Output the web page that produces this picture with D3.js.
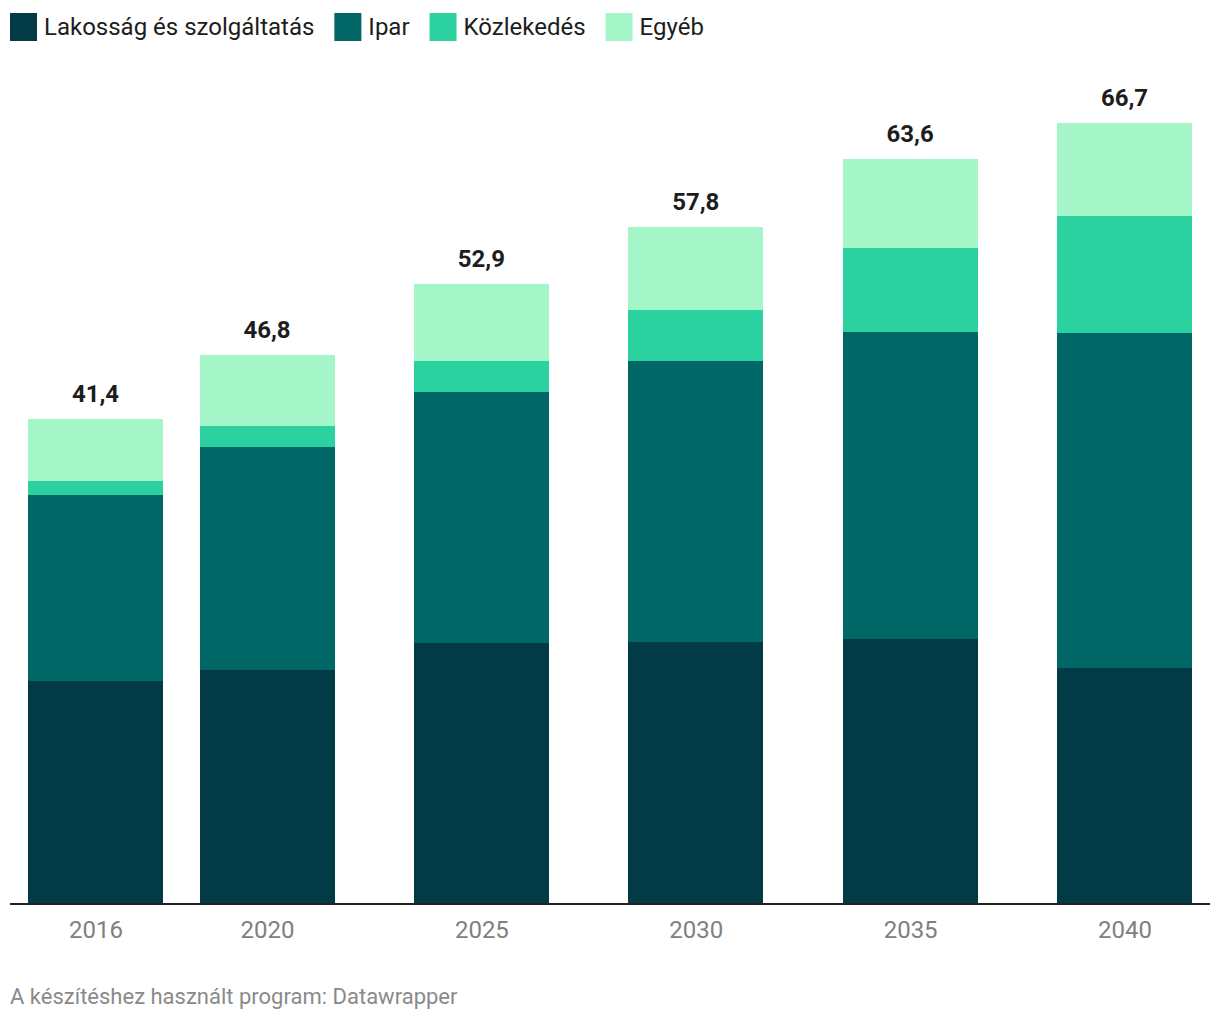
<!DOCTYPE html>
<html>
<head>
<meta charset="utf-8">
<script src="https://cdn.jsdelivr.net/npm/d3@7"></script>
<style>
  body { margin: 0; background: #fff; }
  svg { display: block; font-family: Roboto, "Noto Sans", sans-serif; }
</style>
</head>
<body>
<svg id="chart" width="1220" height="1020"></svg>
<script>
const years = [2016, 2020, 2025, 2030, 2035, 2040];
const seriesNames = ["Lakosság és szolgáltatás", "Ipar", "Közlekedés", "Egyéb"];
const lakossag = [19.0, 19.9, 22.2, 22.3, 22.6, 20.1];
const ipar = [15.9, 19.1, 21.5, 24.0, 26.2, 28.6];
const kozlekedes = [1.2, 1.8, 2.6, 4.4, 7.2, 10.0];
const egyeb = [5.3, 6.0, 6.6, 7.1, 7.6, 8.0];
const totals = [41.4, 46.8, 52.9, 57.8, 63.6, 66.7];
const colors = ["#023b46", "#006766", "#2bd19e", "#a4f5c8"];

const svg = d3.select("#chart");
const x = d3.scaleLinear().domain([2016, 2040]).range([95.5, 1124.5]);
const y = d3.scaleLinear().domain([0, 70]).range([903, 84]);
const barW = 135;

const rows = years.map((yr, i) => ({
  year: yr,
  "Lakosság és szolgáltatás": lakossag[i],
  "Ipar": ipar[i],
  "Közlekedés": kozlekedes[i],
  "Egyéb": egyeb[i],
  total: totals[i]
}));
const stacked = d3.stack().keys(seriesNames)(rows);

svg.append("g").attr("shape-rendering", "crispEdges").selectAll("g")
  .data(stacked)
  .join("g")
  .attr("fill", (d, i) => colors[i])
  .selectAll("rect")
  .data(d => d)
  .join("rect")
  .attr("x", d => Math.round(x(d.data.year) - barW / 2))
  .attr("width", barW)
  .attr("y", d => Math.round(y(d[1])))
  .attr("height", d => Math.round(y(d[0])) - Math.round(y(d[1])));

// total labels
svg.append("g").selectAll("text")
  .data(rows)
  .join("text")
  .attr("x", d => x(d.year))
  .attr("y", d => y(d.total) - 17)
  .attr("text-anchor", "middle")
  .attr("font-size", 24)
  .attr("font-weight", 700)
  .attr("fill", "#1d1d1d")
  .text(d => d3.format(".1f")(d.total).replace(".", ","));

// baseline
svg.append("line")
  .attr("x1", 10).attr("x2", 1210)
  .attr("y1", y(0) + 1).attr("y2", y(0) + 1)
  .attr("stroke", "#222").attr("stroke-width", 2);

// x axis labels
const xAxis = d3.axisBottom(x).tickValues(years).tickFormat(d3.format("d")).tickSize(0).tickPadding(16);
const gx = svg.append("g").attr("transform", `translate(0,${y(0) + 2})`).call(xAxis);
gx.select(".domain").remove();
gx.selectAll("text").attr("font-size", 24).attr("fill", "#808080").attr("font-family", "Roboto, sans-serif");

// legend
const legend = svg.append("g").attr("transform", "translate(10,13)");
let lx = 0;
seriesNames.forEach((name, i) => {
  const g = legend.append("g").attr("transform", `translate(${lx},0)`);
  g.append("rect").attr("width", 27).attr("height", 28).attr("fill", colors[i]);
  const t = g.append("text").attr("x", 34).attr("y", 22).attr("font-size", 24).attr("fill", "#1d1d1d").text(name);
  lx += 34 + t.node().getComputedTextLength() + 20;
});

// source
svg.append("text")
  .attr("x", 10).attr("y", 1004)
  .attr("font-size", 22)
  .attr("fill", "#8a8a8a")
  .text("A készítéshez használt program: Datawrapper");
</script>
</body>
</html>
